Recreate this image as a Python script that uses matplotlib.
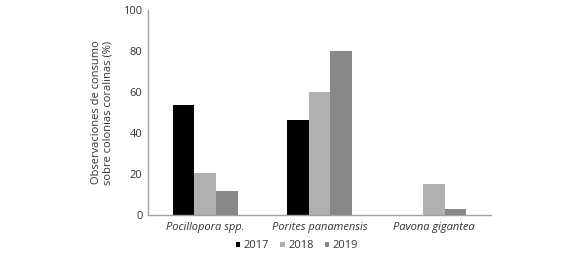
import matplotlib.pyplot as plt
import numpy as np

plt.rcParams['font.family'] = ['Open Sans', 'DejaVu Sans']

especies = ['Pocillopora spp.', 'Porites panamensis', 'Pavona gigantea']
anios = ['2017', '2018', '2019']
v2017 = [53.7, 46.3, 0]
v2018 = [20.3, 60.1, 15.1]
v2019 = [11.7, 80.1, 3.1]
colores = ['#000000', '#b0b0b0', '#878787']

fig = plt.figure(figsize=(5.88, 2.6), dpi=100)
ax = fig.add_axes([148/588, 45/260, 343/588, 205/260])

x = np.arange(len(especies))
w = 0.19
for i, (vals, lab) in enumerate(zip([v2017, v2018, v2019], anios)):
    ax.bar(x + (i - 1) * w, vals, w, color=colores[i], label=lab)

ax.set_xlim(-0.5, 2.5)
ax.set_ylim(0, 100)
ax.set_yticks([0, 20, 40, 60, 80, 100])
ax.set_xticks(x)
ax.set_xticklabels(especies, style='italic')
ax.tick_params(length=0, labelsize=8, colors='#333333', pad=4)
ax.tick_params(axis='x', pad=5)
for s in ['top', 'right']:
    ax.spines[s].set_visible(False)
for s in ['left', 'bottom']:
    ax.spines[s].set_color('#a0a0a0')
    ax.spines[s].set_linewidth(1)

ax.set_ylabel('Observaciones de consumo\nsobre colonias coralinas (%)',
              fontsize=8, color='#333333', labelpad=7, linespacing=1.05)

ax.legend(loc='center', bbox_to_anchor=(297/588, 14/260), bbox_transform=fig.transFigure,
          ncol=3, frameon=False, fontsize=8, handlelength=0.4, handleheight=0.4,
          handletextpad=0.3, columnspacing=1.0, labelcolor='#333333')

fig.savefig('out.png', dpi=100)
